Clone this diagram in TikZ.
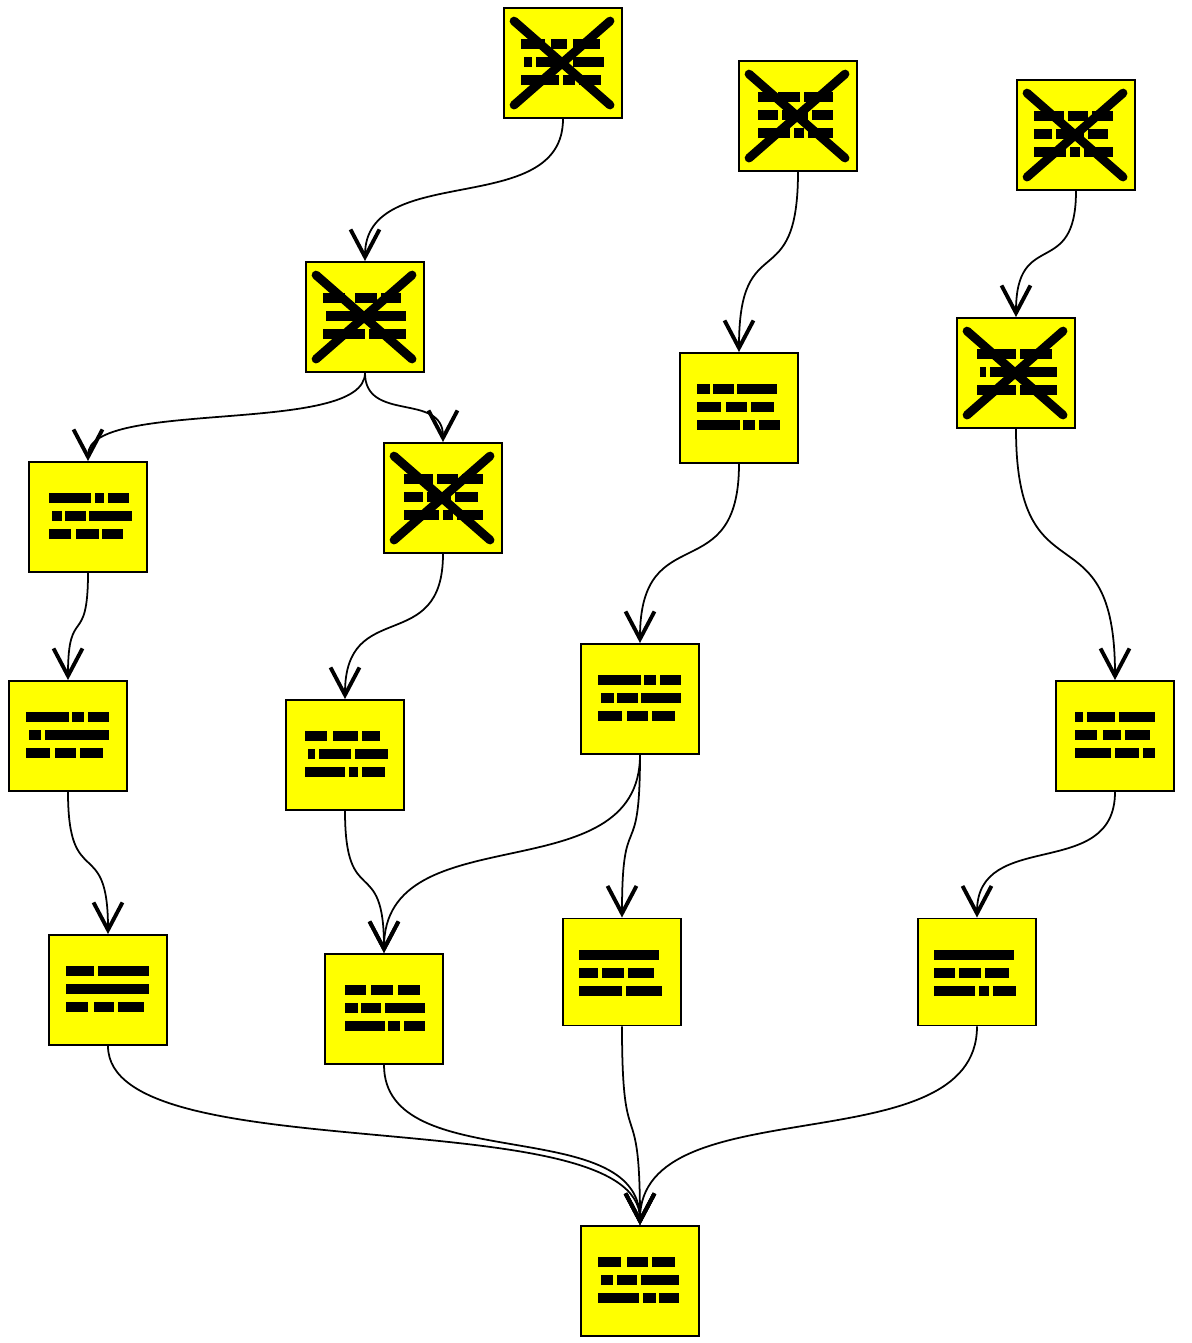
\documentclass[tikz,border=0pt]{standalone}
\usepackage{tikz}
\usetikzlibrary{arrows.meta}
\definecolor{boxyellow}{rgb}{1.0, 1.0, 0.0}

% three rows of text bars inside a box
\newcommand{\textbars}[4]{%
  \begin{scope}[shift={(#1.north west)}]
  \foreach \a/\b in {#2} \fill (\a,32) rectangle (\b,42);
  \foreach \a/\b in {#3} \fill (\a,50) rectangle (\b,60);
  \foreach \a/\b in {#4} \fill (\a,68) rectangle (\b,78);
  \end{scope}}
% big cross over a box
\newcommand{\crossout}[1]{%
  \begin{scope}[shift={(#1.north west)}]
  \draw[line width=5pt, line cap=round] (11,14) -- (107,98) (107,14) -- (11,98);
  \end{scope}}

\begin{document}
\begin{tikzpicture}[x=0.02cm, y=-0.02cm,
  box/.style={draw, line width=1.1pt, fill=boxyellow, minimum width=2.36cm, minimum height=2.2cm, inner sep=0pt},
  edge/.style={line width=1pt, -{Straight Barb[length=5.5mm, width=5.8mm, line width=2.2pt]}, out=-90, in=90}]
\useasboundingbox (0,0) rectangle (1191,1343);

% top row
\node[box] (a) at (563,63) {};
\node[box] (b) at (798,116) {};
\node[box] (c) at (1076,135) {};
% second and third rows
\node[box] (d) at (365,317) {};
\node[box] (e) at (739,408) {};
\node[box] (f) at (1016,373) {};
\node[box] (g) at (88,517) {};
\node[box] (h) at (443,498) {};
% middle rows
\node[box] (i) at (640,699) {};
\node[box] (j) at (68,736) {};
\node[box] (k) at (345,755) {};
\node[box] (l) at (1115,736) {};
\node[box] (m) at (108,990) {};
\node[box] (n) at (384,1009) {};
\node[box, minimum height=2.14cm] (o) at (622,972) {};
\node[box, minimum height=2.14cm] (p) at (977,972) {};
% sink
\node[box] (q) at (640,1281) {};

% bars
\textbars{a}{18/42,48/64,70/97}{21/29,33/66,70/101}{18/56,60/72,76/98}
\textbars{b}{20/36,40/62,66/95}{20/40,44/70,74/95}{20/52,56/66,70/95}
\textbars{c}{18/48,52/72,76/97}{18/36,40/68,72/92}{18/50,54/64,68/97}
\textbars{d}{18/40,50/72,76/96}{21/101}{18/60,64/101}
\textbars{e}{18/31,34/55,58/98}{18/42,47/68,72/95}{18/61,64/76,80/101}
\textbars{f}{21/60,64/96}{24/30,34/101}{21/60,64/101}
\textbars{g}{21/63,67/76,80/101}{24/34,37/58,61/104}{21/43,48/71,74/95}
\textbars{h}{21/50,54/75,79/100}{21/40,44/68,72/95}{21/56,60/70,74/100}
\textbars{i}{18/61,64/76,80/101}{21/34,37/58,61/101}{18/42,47/68,72/95}
\textbars{j}{18/61,64/76,80/101}{21/33,37/101}{18/42,47/68,72/95}
\textbars{k}{20/42,48/73,77/95}{23/30,34/66,70/103}{20/60,64/73,77/100}
\textbars{l}{20/28,32/60,64/100}{20/42,48/66,70/95}{20/56,60/84,88/100}
\textbars{m}{18/46,50/101}{18/101}{18/40,46/66,70/96}
\textbars{n}{21/42,47/69,74/96}{21/34,37/57,61/101}{21/61,64/76,80/101}
\textbars{o}{17/97}{17/36,40/62,66/92}{17/60,64/100}
\textbars{p}{17/97}{17/38,42/64,68/92}{17/58,62/72,76/99}
\textbars{q}{18/41,47/68,72/95}{21/33,37/57,61/99}{18/59,63/76,79/99}

% crossed out boxes
\crossout{a}
\crossout{b}
\crossout{c}
\crossout{d}
\crossout{f}
\crossout{h}

% edges
\draw[edge] (a.south) to[distance=2.02cm] (d.north);
\draw[edge] (b.south) to[distance=2.54cm] (e.north);
\draw[edge] (c.south) to[distance=1.8cm] (f.north);
\draw[edge] (d.south) to[distance=1.26cm] (g.north);
\draw[edge] (d.south) to[distance=1cm] (h.north);
\draw[edge] (e.south) to[distance=2.54cm] (i.north);
\draw[edge] (f.south) to[distance=3.54cm] (l.north);
\draw[edge] (g.south) to[distance=1.52cm] (j.north);
\draw[edge] (h.south) to[distance=2.06cm] (k.north);
\draw[edge] (i.south) to[distance=2.8cm] (n.north);
\draw[edge] (i.south) to[distance=2.3cm] (o.north);
\draw[edge] (j.south) to[distance=2.02cm] (m.north);
\draw[edge] (k.south) to[distance=2.02cm] (n.north);
\draw[edge] (l.south) to[distance=1.8cm] (p.north);
\draw[edge] (m.south) to[distance=2.54cm] (q.north);
\draw[edge] (n.south) to[distance=2.26cm] (q.north);
\draw[edge] (o.south) to[distance=2.8cm] (q.north);
\draw[edge] (p.south) to[distance=2.8cm] (q.north);
\end{tikzpicture}
\end{document}
